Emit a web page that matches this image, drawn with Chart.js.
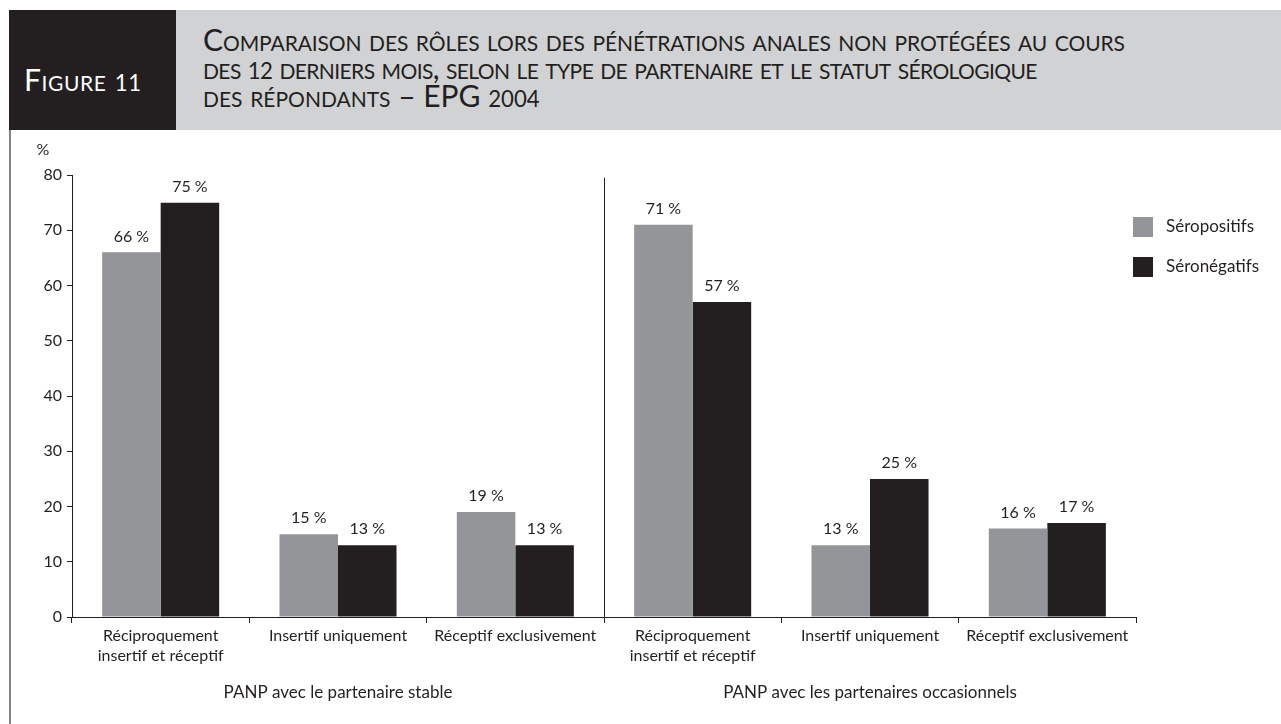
<!DOCTYPE html>
<html><head><meta charset="utf-8">
<script src="https://cdn.jsdelivr.net/npm/chart.js@4/dist/chart.umd.min.js"></script>
<style>
html,body{margin:0;padding:0;background:#fff;width:1281px;height:724px;overflow:hidden;font-family:Lato,sans-serif;}
#fig{position:absolute;left:9px;top:10px;width:167px;height:120px;background:#231f20;}
#figlabel{position:absolute;left:15px;top:54px;color:#fff;font-size:30px;font-variant:small-caps;white-space:nowrap;line-height:1;letter-spacing:0.6px;}
#band{position:absolute;left:176px;top:10px;right:0;height:120px;background:#d1d2d4;}
.tl{position:absolute;left:203px;font-size:30px;font-variant:small-caps;color:#231f20;white-space:nowrap;line-height:1;}
.d{font-size:0.74em;}
#border{position:absolute;left:9px;top:130px;width:2px;height:594px;background:#808285;}
#wrap{position:absolute;left:0;top:130px;width:1281px;height:594px;}
</style></head>
<body>
<div id="fig"><div id="figlabel">Figure <span class="d">11</span></div></div>
<div id="band"></div>
<div class="tl" style="top:24px;letter-spacing:-0.1px">Comparaison des rôles lors des pénétrations anales non protégées au cours</div>
<div class="tl" style="top:52px;letter-spacing:-0.6px">des <span class="d">12</span> derniers mois, selon le type de partenaire et le statut sérologique</div>
<div class="tl" style="top:80px">des répondants – EPG <span class="d">2004</span></div>
<div id="border"></div>
<div id="wrap"><canvas id="c" width="1281" height="594"></canvas></div>
<script>
const categories = [["Réciproquement","insertif et réceptif"],"Insertif uniquement","Réceptif exclusivement",["Réciproquement","insertif et réceptif"],"Insertif uniquement","Réceptif exclusivement"];
const groupLabels = ["PANP avec le partenaire stable","PANP avec les partenaires occasionnels"];
const seriesNames = ["Séropositifs","Séronégatifs"];
const seropositifs = [66,15,19,71,13,16];
const seronegatifs = [75,13,13,57,25,17];
const yUnit = "%";

const FONT = "Lato, sans-serif";
const INK = "#231f20";
const colors = ["#939598", "#231f20"];

const extras = {
  id: 'extras',
  afterDatasetsDraw(chart) {
    const ctx = chart.ctx;
    const xs = chart.scales.x, ys = chart.scales.y;
    ctx.save();
    ctx.fillStyle = INK;
    ctx.font = "16px " + FONT;
    ctx.textAlign = "center";
    ctx.textBaseline = "bottom";
    chart.data.datasets.forEach((ds, i) => {
      chart.getDatasetMeta(i).data.forEach((bar, j) => {
        ctx.fillText(ds.data[j] + " %", bar.x, bar.y - 8);
      });
    });
    const sx = Math.round((xs.getPixelForValue(2) + xs.getPixelForValue(3)) / 2) + 0.5;
    ctx.strokeStyle = INK; ctx.lineWidth = 1;
    ctx.beginPath(); ctx.moveTo(sx, ys.getPixelForValue(79.5)); ctx.lineTo(sx, chart.chartArea.bottom); ctx.stroke();
    ctx.font = "17px " + FONT;
    ctx.textBaseline = "middle";
    ctx.fillText(groupLabels[0], xs.getPixelForValue(1), 563);
    ctx.fillText(groupLabels[1], xs.getPixelForValue(4), 563);
    ctx.font = "16px " + FONT;
    ctx.fillText(yUnit, 43, 20);
    ctx.textAlign = "left";
    ctx.font = "17px " + FONT;
    chart.data.datasets.forEach((ds, i) => {
      const y = 87 + i * 40;
      ctx.fillStyle = ds.backgroundColor;
      ctx.fillRect(1133, y, 20, 20);
      ctx.fillStyle = INK;
      ctx.fillText(ds.label, 1166, y + 10);
    });
    ctx.restore();
  }
};

new Chart(document.getElementById('c'), {
  type: 'bar',
  data: {
    labels: categories,
    datasets: [
      { label: seriesNames[0], data: seropositifs, backgroundColor: colors[0] },
      { label: seriesNames[1], data: seronegatifs, backgroundColor: colors[1] }
    ]
  },
  options: {
    responsive: false,
    animation: false,
    devicePixelRatio: 1,
    layout: { padding: { left: 0, right: 145, top: 45, bottom: 0 } },
    datasets: { bar: { categoryPercentage: 0.66, barPercentage: 1.0 } },
    plugins: { legend: { display: false }, tooltip: { enabled: false } },
    scales: {
      x: {
        grid: { offset: true, drawOnChartArea: false, drawTicks: true, tickLength: 6, color: INK },
        border: { display: true, color: INK, width: 1 },
        ticks: { font: { family: FONT, size: 16, lineHeight: 1.3 }, color: INK, padding: 2, maxRotation: 0, autoSkip: false },
        afterFit(s) { s.height = 107; }
      },
      y: {
        min: 0, max: 80,
        ticks: { stepSize: 10, font: { family: FONT, size: 16 }, color: INK, padding: 5 },
        grid: { drawOnChartArea: false, drawTicks: true, tickLength: 5, color: INK },
        border: { display: true, color: INK, width: 1 },
        afterFit(s) { s.width = 72; }
      }
    }
  },
  plugins: [extras]
});
</script>
</body></html>
